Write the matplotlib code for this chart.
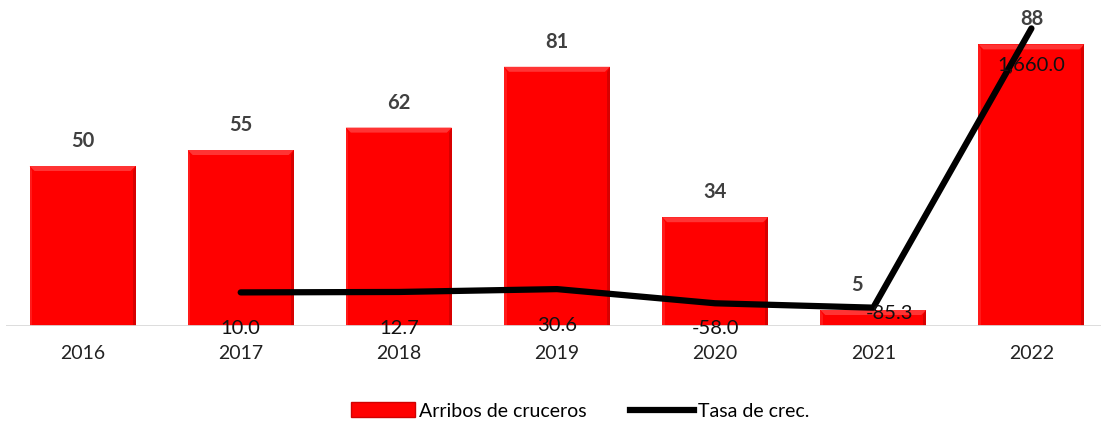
import matplotlib.pyplot as plt
from matplotlib.patches import Polygon
from matplotlib.lines import Line2D
from matplotlib.patches import Rectangle
import numpy as np

plt.rcParams['font.family'] = ['Lato', 'DejaVu Sans']

years = ['2016', '2017', '2018', '2019', '2020', '2021', '2022']
arribos = [50, 55, 62, 81, 34, 5, 88]
tasa_years = ['2017', '2018', '2019', '2020', '2021', '2022']
tasa = [10.0, 12.7, 30.6, -58.0, -85.3, 1660.0]
tasa_labels = ['10.0', '12.7', '30.6', '-58.0', '-85.3', '1,660.0']

# label offsets (points) for the line labels, as placed in the original
tasa_offsets = [(0, -26), (0, -26), (0, -26), (0, -18), (12, -4), (0, -26)]

fig = plt.figure(figsize=(11.01, 4.28), dpi=100)
ax = fig.add_axes([6 / 1101, 102 / 428, 1095 / 1101, 320 / 428])
x = np.arange(len(years))
width = 0.67

bars = ax.bar(x, arribos, width=width, color='#ff0000', zorder=2)

# bevel effect on each bar
bx = 5 / 158.1
by = 5 / 3.2
for b in bars:
    x0, y0 = b.get_x(), b.get_y()
    x1, y1 = x0 + b.get_width(), y0 + b.get_height()
    dy = min(by, (y1 - y0) / 2)
    ax.add_patch(Polygon([(x0, y1), (x1, y1), (x1 - bx, y1 - dy), (x0 + bx, y1 - dy)],
                         closed=True, color='#ff3434', lw=0, zorder=3))
    ax.add_patch(Polygon([(x1, y1), (x1, y0), (x1 - bx * 0.6, y0), (x1 - bx * 0.6, y1 - dy)],
                         closed=True, color='#d80000', lw=0, zorder=3))
    ax.add_patch(Polygon([(x0, y1), (x0, y0), (x0 + bx * 0.5, y0), (x0 + bx * 0.5, y1 - dy)],
                         closed=True, color='#ff1a1a', lw=0, zorder=3))

for i, v in enumerate(arribos):
    dx = -12 if v == 5 else 0
    ax.annotate(str(v), (x[i], v), xytext=(dx, 18), textcoords='offset points',
                ha='center', va='center', fontsize=14.5, fontweight='bold',
                color='#404040', zorder=6)

ax.set_ylim(0, 100)
ax.set_xlim(-0.484, 6.44)
ax.axhline(0, color='#d9d9d9', lw=2, zorder=4)

for s in ax.spines.values():
    s.set_visible(False)
ax.set_yticks([])
ax.set_xticks(x)
ax.set_xticklabels(years, fontsize=14, color='#222222')
ax.tick_params(axis='x', length=0, pad=14)

ax2 = ax.twinx()
ax2.set_ylim(-200, 1800)
tx = [years.index(y) for y in tasa_years]
ax2.plot(tx, tasa, color='black', lw=4.5, solid_capstyle='round', zorder=5)
for i, v in enumerate(tasa):
    ax2.annotate(tasa_labels[i], (tx[i], v), xytext=tasa_offsets[i],
                 textcoords='offset points', ha='center', va='center',
                 fontsize=14.5, color='#111111', zorder=6)
ax2.axis('off')

handles = [Rectangle((0, 0), 1, 1, facecolor='#ff0000', edgecolor='#d00000'),
           Line2D([0], [0], color='black', lw=4.5)]
fig.legend(handles, ['Arribos de cruceros', 'Tasa de crec.'], loc='center',
           bbox_to_anchor=(580 / 1101, 1 - 411 / 428), ncol=2, frameon=False,
           fontsize=14, handlelength=3.3, handletextpad=0.2, columnspacing=2.2,
           handleheight=0.8)

fig.savefig('out.png', dpi=100)
